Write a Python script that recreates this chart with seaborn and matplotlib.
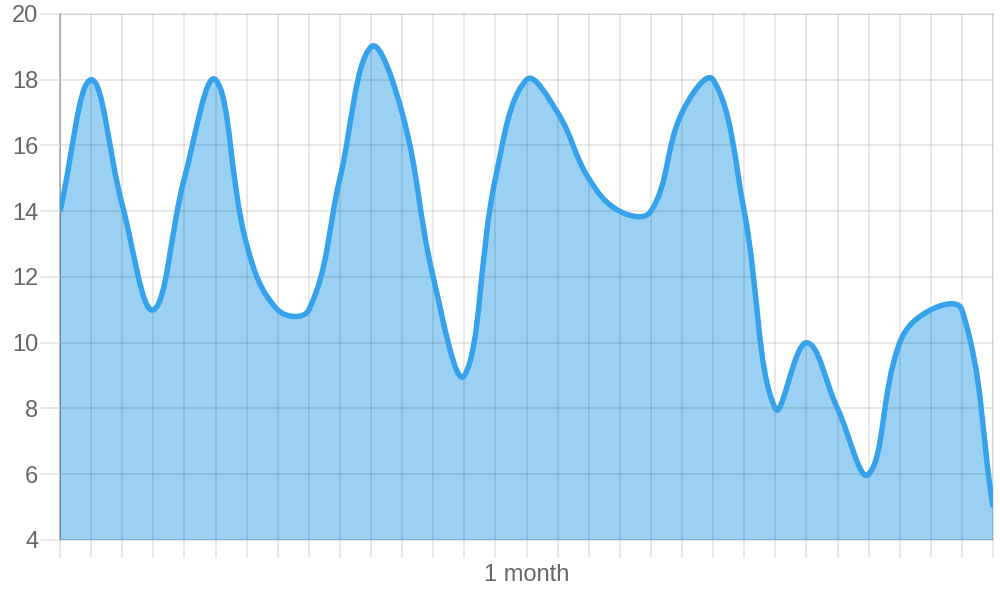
import numpy as np
import matplotlib
matplotlib.use("Agg")
import matplotlib.pyplot as plt
import seaborn as sns
from matplotlib.path import Path
from matplotlib.patches import PathPatch

# values, one per grid column
values = [14, 18, 14.2, 11, 15, 18, 13, 11, 11, 15, 19, 17, 12, 9, 15, 18,
          17, 15, 14, 14, 17, 18, 14, 8, 10, 8, 6, 10, 11, 11, 5]
x_labels = [""] * 15 + ["1 month"] + [""] * 15
y_ticks = [4, 6, 8, 10, 12, 14, 16, 18, 20]

LINE = "#36A2EB"
FILL = (54 / 255, 162 / 255, 235 / 255, 0.5)
TEXT = "#666666"

sns.set_theme(style="whitegrid")
plt.rcParams["font.family"] = ["Liberation Sans", "DejaVu Sans"]

fig = plt.figure(figsize=(10, 6), dpi=100)
ax = fig.add_axes([0.06, 0.1, 0.933, 0.8767])
ax.set_facecolor("white")
ax.set_xlim(0, len(values) - 1)
ax.set_ylim(y_ticks[0], y_ticks[-1])


def spline_path(xs, ys, tension=0.4):
    """Chart.js style bezier through the points, control points in pixel space."""
    pts = ax.transData.transform(np.column_stack([xs, ys]))
    n = len(pts)
    cp_in, cp_out = [], []
    for i in range(n):
        cur = pts[i]
        prev = pts[i - 1] if i > 0 else cur
        nxt = pts[i + 1] if i < n - 1 else cur
        d01 = np.hypot(*(cur - prev))
        d12 = np.hypot(*(nxt - cur))
        tot = d01 + d12
        s01 = d01 / tot if tot else 0
        s12 = d12 / tot if tot else 0
        cp_in.append(cur - tension * s01 * (nxt - prev))
        cp_out.append(cur + tension * s12 * (nxt - prev))
    inv = ax.transData.inverted()
    verts = [inv.transform(pts[0])]
    codes = [Path.MOVETO]
    for i in range(1, n):
        verts += [inv.transform(cp_out[i - 1]), inv.transform(cp_in[i]), inv.transform(pts[i])]
        codes += [Path.CURVE4] * 3
    return verts, codes


xs = np.arange(len(values))
verts, codes = spline_path(xs, values)

# area down to the bottom of the axis
ymin = y_ticks[0]
fill_verts = verts + [(xs[-1], ymin), (xs[0], ymin), verts[0]]
fill_codes = codes + [Path.LINETO, Path.LINETO, Path.CLOSEPOLY]
ax.add_patch(PathPatch(Path(fill_verts, fill_codes), facecolor=FILL,
                       edgecolor="none", zorder=1))
ax.add_patch(PathPatch(Path(verts, codes), facecolor="none", edgecolor=LINE,
                       linewidth=3.9, joinstyle="round", capstyle="butt", zorder=3))

# grid and ticks (grid sits over the fill, like the reference)
ax.set_xticks(xs)
ax.set_xticklabels(x_labels)
ax.set_yticks(y_ticks)
ax.set_yticklabels([str(v) for v in y_ticks])
ax.set_axisbelow(False)
ax.grid(True, color="black", alpha=0.11, linewidth=1.1, zorder=2)
tick_grey = "#e3e3e3"
ax.tick_params(axis="x", length=13, width=1.1, color=tick_grey, pad=4,
               labelsize=17, labelcolor=TEXT, bottom=True)
ax.tick_params(axis="y", length=14.5, width=1.1, color=tick_grey, pad=1,
               labelsize=17, labelcolor=TEXT, left=True)

for side in ["top", "right", "bottom"]:
    ax.spines[side].set_color("black")
    ax.spines[side].set_alpha(0.11)
    ax.spines[side].set_linewidth(1.1)
ax.spines["left"].set_color("black")
ax.spines["left"].set_alpha(0.3)
ax.spines["left"].set_linewidth(1.3)

fig.savefig("out.png", dpi=100)
